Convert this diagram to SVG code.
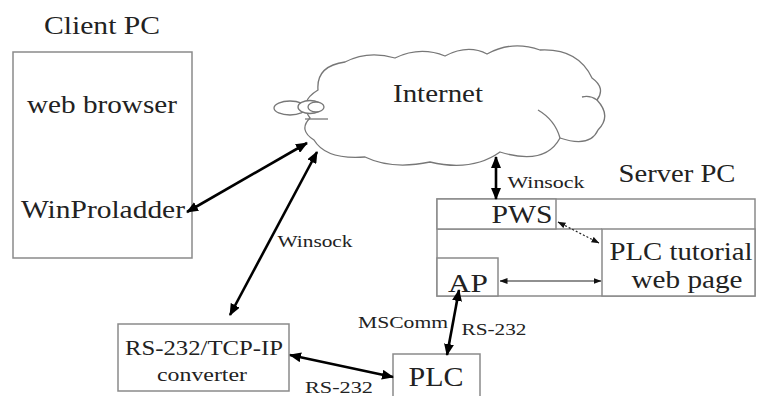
<svg xmlns="http://www.w3.org/2000/svg" width="759" height="396" viewBox="0 0 759 396" font-family="'Liberation Serif', 'DejaVu Serif', serif">
<style>
.box{fill:#fff;stroke:#8a8a8a;stroke-width:1.5}
.t{fill:#222;text-anchor:middle}
.big{font-size:26px}
.sm{font-size:17px}
.thick{stroke:#000;stroke-width:2.6;fill:none}
.thin{stroke:#222;stroke-width:1.2;fill:none}
.cloud{fill:#fff;stroke:#777;stroke-width:1.3}
</style>
<defs>
<marker id="ah" viewBox="0 0 12 10" refX="11" refY="5" markerWidth="12" markerHeight="10" markerUnits="userSpaceOnUse" orient="auto-start-reverse">
<path d="M0,0 L12,5 L0,10 Z" fill="#000"/>
</marker>
<marker id="as" viewBox="0 0 8 6" refX="7.5" refY="3" markerWidth="8" markerHeight="6" markerUnits="userSpaceOnUse" orient="auto-start-reverse">
<path d="M0,0 L8,3 L0,6 Z" fill="#111"/>
</marker>
</defs>
<rect width="759" height="396" fill="#fff"/>

<g id="client">
<text class="t big" x="102" y="34" textLength="116" lengthAdjust="spacingAndGlyphs">Client PC</text>
<rect class="box" x="13" y="52" width="179" height="206"/>
<text class="t big" x="102" y="113" textLength="150" lengthAdjust="spacingAndGlyphs">web browser</text>
<text class="t big" x="103" y="218" textLength="164" lengthAdjust="spacingAndGlyphs">WinProladder</text>
</g>

<g id="internet">
<path class="cloud" d="M318,90 Q316,66 345,62 Q368,50 395,58 Q420,46 445,56 Q468,44 487,54 Q512,40 540,50 Q578,48 592,78 Q606,88 597,100 Q612,116 598,130 Q590,148 560,138 Q545,166 500,152 Q472,172 430,162 Q392,170 365,157 Q326,160 314,140 Q298,130 310,118 Q298,102 318,90 Z"/>
<path class="cloud" fill="none" d="M560,138 Q555,120 538,110 M597,100 Q590,95 582,97"/>
<ellipse class="cloud" fill="none" cx="290" cy="108" rx="16" ry="7"/>
<ellipse class="cloud" fill="none" cx="310" cy="107" rx="12" ry="6.5"/>
<ellipse class="cloud" fill="none" cx="316" cy="107" rx="8" ry="5"/>
<path class="cloud" fill="none" d="M305,119 L328,119"/>
<text class="t big" x="438" y="102" textLength="90" lengthAdjust="spacingAndGlyphs">Internet</text>
</g>

<g id="server">
<text class="t big" x="677" y="182" textLength="117" lengthAdjust="spacingAndGlyphs">Server PC</text>
<rect class="box" x="437" y="199" width="318" height="97"/>
<line class="box" x1="437" y1="229" x2="602" y2="229"/>
<rect class="box" x="437" y="199" width="119" height="30"/>
<text class="t big" x="522" y="223" textLength="61" lengthAdjust="spacingAndGlyphs">PWS</text>
<rect class="box" x="602" y="229" width="153" height="67"/>
<text class="t big" x="681" y="260" textLength="143" lengthAdjust="spacingAndGlyphs">PLC tutorial</text>
<text class="t big" x="687" y="288" textLength="111" lengthAdjust="spacingAndGlyphs">web page</text>
<rect class="box" x="437" y="258" width="61" height="38"/>
<text class="t big" x="468" y="292" textLength="40" lengthAdjust="spacingAndGlyphs">AP</text>
</g>

<g id="converter">
<rect class="box" x="118" y="324" width="171" height="67"/>
<text class="t" font-size="22" x="204" y="355" textLength="158" lengthAdjust="spacingAndGlyphs">RS-232/TCP-IP</text>
<text class="t" font-size="19" x="202" y="381" textLength="90" lengthAdjust="spacingAndGlyphs">converter</text>
</g>

<g id="plc">
<rect class="box" x="393" y="354" width="87" height="50"/>
<text class="t" font-size="27" x="436" y="386" textLength="55" lengthAdjust="spacingAndGlyphs">PLC</text>
</g>

<g id="connectors">
<line class="thick" x1="187" y1="212" x2="307" y2="143" marker-start="url(#ah)" marker-end="url(#ah)"/>
<line class="thick" x1="230" y1="315" x2="317" y2="152" marker-start="url(#ah)" marker-end="url(#ah)"/>
<line class="thick" x1="496" y1="157" x2="496" y2="199" marker-start="url(#ah)" marker-end="url(#ah)"/>
<line class="thick" x1="290" y1="355" x2="393" y2="377" marker-start="url(#ah)" marker-end="url(#ah)"/>
<line class="thick" x1="447" y1="355" x2="459" y2="290" marker-start="url(#ah)" marker-end="url(#ah)"/>
<line class="thin" stroke-dasharray="2,2" x1="558" y1="222" x2="599" y2="243" marker-start="url(#as)" marker-end="url(#as)"/>
<line class="thin" x1="500" y1="281" x2="601" y2="281" marker-start="url(#as)" marker-end="url(#as)"/>
<text class="t sm" x="315" y="247" textLength="75" lengthAdjust="spacingAndGlyphs">Winsock</text>
<text class="t sm" x="546" y="188" textLength="77" lengthAdjust="spacingAndGlyphs">Winsock</text>
<text class="t sm" x="403" y="328" textLength="90" lengthAdjust="spacingAndGlyphs">MSComm</text>
<text class="t sm" x="494" y="335" textLength="65" lengthAdjust="spacingAndGlyphs">RS-232</text>
<text class="t sm" x="339" y="393" textLength="68" lengthAdjust="spacingAndGlyphs">RS-232</text>
</g>
</svg>
